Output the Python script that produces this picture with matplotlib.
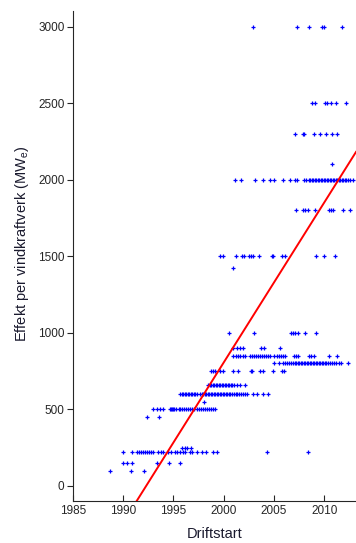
import numpy as np
import matplotlib
matplotlib.use('Agg')
import matplotlib.pyplot as plt

plt.rcParams['font.family'] = ['Liberation Sans', 'DejaVu Sans']

# ── Turbine rating (MW) vs. commissioning year, one list per rating ──────────
ratings = [3000, 2500, 2300, 2100, 2000, 1800, 1500, 1425, 1000, 900, 850,
           800, 750, 660, 600, 550, 500, 450, 250, 225, 150, 100]

yr_3000 = [2002.9, 2007.3, 2008.5, 2009.8, 2010.0, 2011.8]
yr_2500 = [2008.8, 2009.1, 2010.1, 2010.3, 2010.7, 2011.2, 2012.2]
yr_2300 = [2007.05, 2007.85, 2007.95, 2009.0, 2009.6, 2010.15, 2010.75, 2011.3]
yr_2100 = [2010.8]
yr_2000 = [2001.1, 2001.7, 2003.1, 2003.9, 2004.6, 2005.0, 2005.85, 2006.6,
           2007.1, 2007.3, 2008.0, 2008.2, 2008.45, 2008.6, 2008.75, 2008.9,
           2009.05, 2009.2, 2009.35, 2009.5, 2009.65, 2009.8, 2009.95, 2010.1,
           2010.25, 2010.4, 2010.55, 2010.7, 2010.85, 2011.0, 2011.15, 2011.3,
           2011.45, 2011.6, 2011.75, 2011.9, 2012.05, 2012.2, 2012.4, 2012.6,
           2012.85]
yr_1800 = [2007.15, 2007.85, 2008.1, 2008.4, 2009.07, 2010.5, 2010.65,
           2010.9, 2011.9, 2012.6]
yr_1500 = [1999.6, 1999.95, 2001.2, 2001.8, 2002.0, 2002.5, 2002.7, 2002.9,
           2003.5, 2004.8, 2004.9, 2005.75, 2006.1, 2009.15, 2009.95, 2011.05]
yr_1425 = [2000.95]
yr_1000 = [2000.55, 2003.05, 2006.7, 2006.9, 2007.1, 2007.4, 2008.1, 2009.15]
yr_900 = [2000.95, 2001.3, 2001.6, 2001.95, 2003.7, 2004.0, 2005.6]
yr_850 = [2000.91, 2001.21, 2001.41, 2001.61, 2001.91, 2002.16, 2002.6,
          2002.8, 2003.0, 2003.2, 2003.4, 2003.6, 2003.8, 2004.0, 2004.2,
          2004.4, 2004.6, 2005.04, 2005.29, 2005.49, 2005.69, 2005.89, 2006.09,
          2006.98, 2007.19, 2007.39, 2008.52, 2008.72, 2009.02, 2010.49, 2011.22]
yr_800 = [2005.04, 2005.49, 2005.9, 2006.1, 2006.3, 2006.5, 2006.7, 2006.9,
          2007.05, 2007.2, 2007.35, 2007.5, 2007.65, 2007.8, 2007.95, 2008.1,
          2008.25, 2008.4, 2008.55, 2008.7, 2008.85, 2009.0, 2009.15, 2009.3,
          2009.45, 2009.6, 2009.75, 2009.9, 2010.05, 2010.2, 2010.4, 2010.6,
          2010.8, 2011.0, 2011.2, 2011.45, 2011.7, 2012.4]
yr_750 = [1998.7, 1998.93, 1999.13, 1999.62, 1999.92, 2000.94, 2001.44,
          2002.67, 2002.8, 2003.6, 2003.95, 2004.92, 2005.76, 2005.98]
yr_660 = [1998.45, 1998.6, 1998.75, 1998.9, 1999.05, 1999.2, 1999.35, 1999.5,
          1999.65, 1999.8, 1999.95, 2000.1, 2000.25, 2000.4, 2000.55, 2000.7,
          2000.85, 2001.0, 2001.3, 2001.6, 2002.1]
yr_600 = [1995.65, 1995.8, 1995.95, 1996.1, 1996.25, 1996.4, 1996.55, 1996.7,
          1996.85, 1997.0, 1997.15, 1997.3, 1997.65, 1997.8, 1997.95, 1998.1,
          1998.25, 1998.4, 1998.55, 1998.7, 1998.85, 1999.0, 1999.15, 1999.3,
          1999.45, 1999.6, 1999.75, 1999.9, 2000.05, 2000.2, 2000.35, 2000.5,
          2000.65, 2000.8, 2001.0, 2001.2, 2001.35, 2001.5, 2001.7, 2001.9,
          2002.1, 2002.28, 2002.87, 2003.33, 2003.87, 2004.42]
yr_550 = [1998.08]
yr_500 = [1993.0, 1993.4, 1993.66, 1993.93, 1994.65, 1994.75, 1994.85,
          1994.95, 1995.1, 1995.3, 1995.5, 1995.65, 1995.8, 1996.0, 1996.2,
          1996.4, 1996.6, 1996.8, 1997.0, 1997.3, 1997.5, 1997.7, 1997.9,
          1998.1, 1998.3, 1998.5, 1998.7, 1998.9, 1999.1]
yr_450 = [1992.4, 1993.53]
yr_250 = [1995.82, 1996.15, 1996.37, 1996.71]
yr_225 = [1990.0, 1990.92, 1991.34, 1991.57, 1991.77, 1991.97, 1992.17,
          1992.37, 1992.57, 1992.77, 1993.0, 1993.49, 1993.76, 1993.99,
          1994.48, 1994.75, 1995.15, 1995.38, 1995.65, 1995.97, 1996.14,
          1996.64, 1996.8, 1997.3, 1997.8, 1998.23, 1998.96, 1999.35,
          2004.3, 2008.4]
yr_150 = [1990.0, 1990.38, 1990.85, 1993.33, 1994.55, 1995.65]
yr_100 = [1988.69, 1990.78, 1992.1]

years_by_rating = [yr_3000, yr_2500, yr_2300, yr_2100, yr_2000, yr_1800,
                   yr_1500, yr_1425, yr_1000, yr_900, yr_850, yr_800, yr_750,
                   yr_660, yr_600, yr_550, yr_500, yr_450, yr_250, yr_225,
                   yr_150, yr_100]

# linear trend: slope in MW per year, and the year where it crosses zero
fit_slope = 104.5
fit_zero_year = 1992.28

x_ticks = [1985, 1990, 1995, 2000, 2005, 2010]
y_ticks = [0, 500, 1000, 1500, 2000, 2500, 3000]

# ── Plot ──────────────────────────────────────────────────────────────────────
fig = plt.figure(figsize=(3.56, 5.43), dpi=100)
ax = fig.add_axes([0.2048, 0.0768, 0.7952, 0.9026])

xs = np.concatenate([np.asarray(y, dtype=float) for y in years_by_rating])
ys = np.concatenate([np.full(len(y), r, dtype=float)
                     for r, y in zip(ratings, years_by_rating)])
ax.plot(xs, ys, linestyle='none', marker='+', color='#0000ff',
        markersize=2.8, markeredgewidth=0.9, zorder=2)

xlim = (1985, 2013.15)
fit_x = np.array([1991.0, xlim[1]])
ax.plot(fit_x, fit_slope * (fit_x - fit_zero_year), color='#ff0000',
        linewidth=1.4, zorder=3)

ax.set_xlim(*xlim)
ax.set_ylim(-100, 3100)
ax.set_xticks(x_ticks)
ax.set_yticks(y_ticks)

axis_col = '#262626'
for side in ('top', 'right'):
    ax.spines[side].set_visible(False)
for side in ('left', 'bottom'):
    ax.spines[side].set_color(axis_col)
    ax.spines[side].set_linewidth(0.8)
ax.tick_params(axis='x', direction='in', length=4, width=0.8,
               colors=axis_col, labelsize=8.5, pad=3)
ax.tick_params(axis='y', direction='out', length=4, width=0.8,
               colors=axis_col, labelsize=8.5, pad=2)

ax.set_xlabel('Driftstart', fontsize=10.5, color='#1a1a2e', labelpad=7)
ax.set_ylabel('Effekt per vindkraftverk (MW$_\\mathregular{e}$)',
              fontsize=10.5, color='#1a1a2e')
ax.yaxis.set_label_coords(-0.148, 0.525)

fig.savefig('out.png', dpi=100)
plt.close(fig)
